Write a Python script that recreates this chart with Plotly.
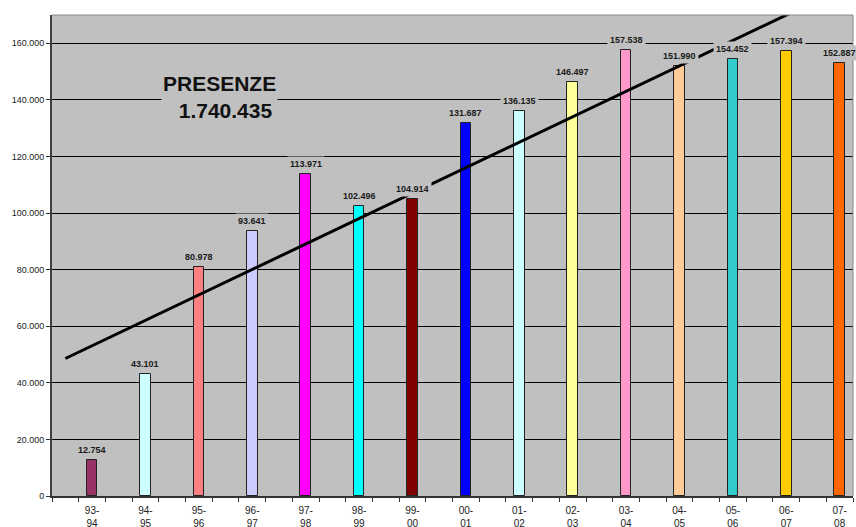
import numpy as np
import plotly.graph_objects as go

seasons = ["93-<br>94", "94-<br>95", "95-<br>96", "96-<br>97", "97-<br>98", "98-<br>99", "99-<br>00",
           "00-<br>01", "01-<br>02", "02-<br>03", "03-<br>04", "04-<br>05", "05-<br>06", "06-<br>07", "07-<br>08"]
presenze = [12754, 43101, 80978, 93641, 113971, 102496, 104914, 131687,
            136135, 146497, 157538, 151990, 154452, 157394, 152887]
bar_colors = ["#993366", "#CCFFFF", "#FF8080", "#CCCCFF", "#FF00FF", "#00FFFF", "#800000",
              "#0000FF", "#CCFFFF", "#FFFF99", "#FF99CC", "#FFCC99", "#33CCCC", "#FFCC00", "#FF6600"]
total_label = "PRESENZE<br>\u00a0\u00a01.740.435"
y_ticks = [0, 20000, 40000, 60000, 80000, 100000, 120000, 140000, 160000]

# category slots: each season sits in every other slot (Excel-style layout)
xpos = [2 * i + 1 for i in range(len(presenze))]

fig = go.Figure()
fig.add_trace(go.Bar(
    x=xpos, y=presenze, width=0.4,
    marker=dict(color=bar_colors, line=dict(color="#222222", width=1)),
    hoverinfo="skip", showlegend=False,
))

# linear trend line (least squares over the bars)
slope, intercept = np.polyfit(xpos, presenze, 1)
tx = np.array([0, 29.5])
fig.add_trace(go.Scatter(
    x=tx, y=slope * tx + intercept, mode="lines",
    line=dict(color="black", width=3), hoverinfo="skip", showlegend=False,
))

def fmt(v):
    return f"{v:,}".replace(",", ".")

for x, v in zip(xpos, presenze):
    fig.add_annotation(
        x=x, y=v, xref="x", yref="y", text=f"<b>{fmt(v)}</b>",
        showarrow=False, yanchor="bottom", yshift=2,
        font=dict(family="Liberation Sans, Arial", size=9, color="#1a1a1a"),
        bgcolor="#C0C0C0", borderpad=2,
    )

fig.add_annotation(
    x=5.78, y=141000, xref="x", yref="y", text=f"<b>{total_label}</b>",
    showarrow=False, align="center",
    font=dict(family="Liberation Sans, Arial", size=21, color="#111111"),
    bgcolor="#C0C0C0", borderpad=1,
)

fig.update_layout(
    width=856, height=527,
    margin=dict(l=52, r=3, t=15, b=31),
    paper_bgcolor="white", plot_bgcolor="#C0C0C0",
    separators=",.",
    bargap=0,
    xaxis=dict(
        range=[-0.5, 29.5], tickmode="array", tickvals=xpos, ticktext=seasons,
        ticks="outside", ticklen=0, ticklabelstandoff=4, showgrid=False, zeroline=False,
        automargin=False,
        showline=True, linecolor="#333333", linewidth=2,
        tickfont=dict(family="Liberation Sans, Arial", size=10, color="#222222"),
        minor=dict(tickmode="linear", tick0=-0.5, dtick=1, ticks="outside",
                   ticklen=4, tickcolor="#333333", showgrid=False),
        mirror=False,
    ),
    yaxis=dict(
        range=[0, 170000], tickmode="array", tickvals=y_ticks, tickformat=",d",
        ticks="outside", ticklen=4, tickcolor="#333333", automargin=False,
        showgrid=True, gridcolor="#000000", gridwidth=1, zeroline=False,
        showline=True, linecolor="#404040", linewidth=2,
        tickfont=dict(family="Liberation Sans, Arial", size=9, color="#1a1a1a"),
    ),
    shapes=[
        dict(type="line", xref="paper", yref="paper", x0=0, x1=1, y0=1, y1=1,
             line=dict(color="#888888", width=1)),
        dict(type="line", xref="paper", yref="paper", x0=1, x1=1, y0=0, y1=1,
             line=dict(color="#888888", width=1)),
    ],
)

fig.write_html("out.html")
